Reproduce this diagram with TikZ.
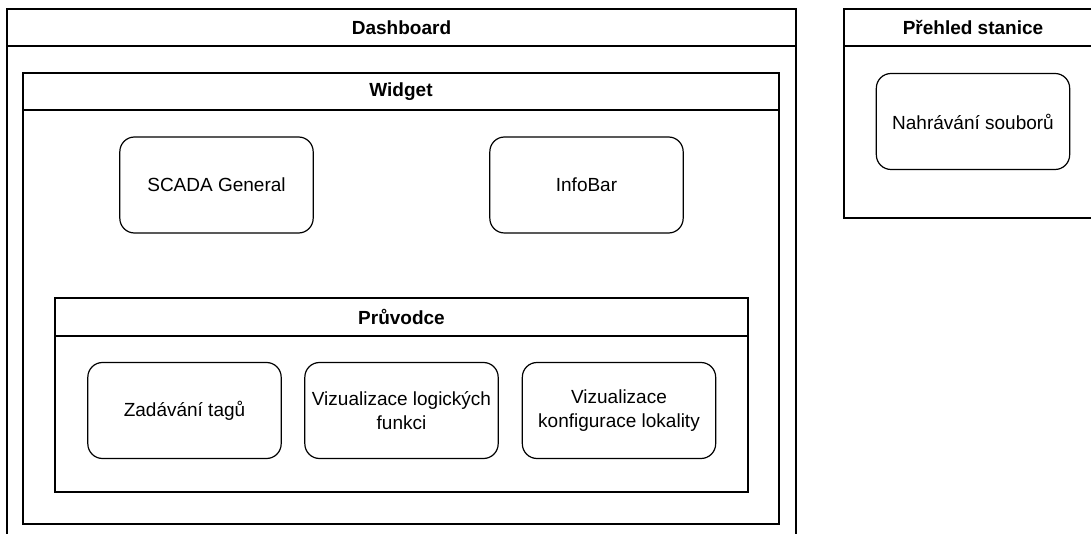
\documentclass[tikz,border=0pt]{standalone}
\usepackage{fontspec}
\setmainfont{Liberation Sans}
\begin{document}
\begin{tikzpicture}[x=0.75pt,y=-0.75pt,
    frame/.style={draw, line width=1.1pt},
    part/.style={draw, line width=0.9pt, rounded corners=11pt, minimum width=145pt,
        minimum height=72pt, align=center, inner sep=1pt,
        font=\fontsize{14.25}{18.5}\selectfont},
    title/.style={font=\bfseries\fontsize{14.25}{17}\selectfont}]
    \useasboundingbox (0,0) rectangle (1091,534);
    \clip (0,0) rectangle (1091,534);
    % containers
    \draw[frame] (7,9) rectangle (796,560);
    \draw[frame] (7,46) -- (796,46);
    \node[title] (dashboard) at (401.5,27.5) {Dashboard};
    \draw[frame] (23,73) rectangle (779,524);
    \draw[frame] (23,110) -- (779,110);
    \node[title] (widget) at (401,91.5) {Widget};
    \draw[frame] (55,298) rectangle (748,492);
    \draw[frame] (55,336) -- (748,336);
    \node[title] (pruvodce) at (401.5,317) {Průvodce};
    \draw[frame] (844,9) rectangle (1102,218);
    \draw[frame] (844,46) -- (1102,46);
    \node[title] (prehled) at (973,27.5) {Přehled stanice};
    % components
    \node[part] (scada) at (216.5,185) {SCADA General};
    \node[part] (infobar) at (586.5,185) {InfoBar};
    \node[part] (tagy) at (184.5,410.5) {Zadávání tagů};
    \node[part] (logika) at (401.5,410.5) {Vizualizace logických\\funkci};
    \node[part] (lokalita) at (619,410.5) {Vizualizace\\konfigurace lokality};
    \node[part] (soubory) at (973,121.5) {Nahrávání souborů};
\end{tikzpicture}
\end{document}
